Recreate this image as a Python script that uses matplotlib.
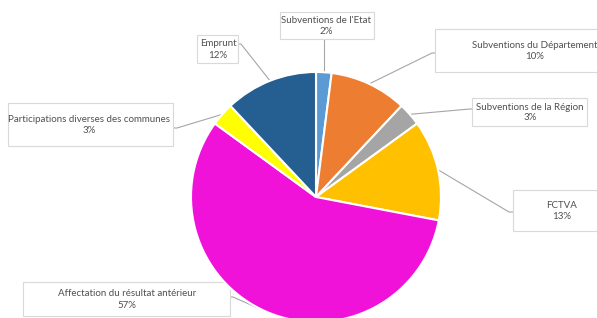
import numpy as np
import matplotlib
matplotlib.use('Agg')
import matplotlib.pyplot as plt
from matplotlib.patches import Rectangle

plt.rcParams['font.family'] = ['Lato', 'DejaVu Sans']

# Données
categories = ["Subventions de l'Etat", "Subventions du Département",
              "Subventions de la Région", "FCTVA",
              "Affectation du résultat antérieur",
              "Participations diverses des communes", "Emprunt"]
valeurs = [2, 10, 3, 13, 57, 3, 12]
couleurs = ['#5B9BD5', '#ED7D31', '#A5A5A5', '#FFC000',
            '#F012D9', '#FFFF00', '#255E91']

W, H = 597, 318
fig = plt.figure(figsize=(W / 100, H / 100), dpi=100)
ax = fig.add_axes([0, 0, 1, 1])
ax.set_xlim(0, W)
ax.set_ylim(H, 0)
ax.set_aspect('equal')
ax.axis('off')

# centre et rayon en pixels
cx, cy, r = 316, 197, 125

# le pie est dessiné dans un repère y vers le haut, sur un axe séparé
ax_pie = fig.add_axes([0, 0, 1, 1])
wedges, _ = ax_pie.pie(valeurs, colors=couleurs, startangle=90, counterclock=False,
                       center=(cx, H - cy), radius=r, frame=True,
                       wedgeprops=dict(edgecolor='white', linewidth=1.5))
ax_pie.set_xlim(0, W)
ax_pie.set_ylim(0, H)
ax_pie.set_aspect('equal')
ax_pie.axis('off')

# boîtes d'étiquettes: (x0, y0, x1, y1), centre du texte x, coude de la ligne
boites = [
    (280, 12, 374, 39, 326, None),
    (435, 29, 600, 72, 535, (432, 53)),
    (472, 98, 587, 126, 530, (470, 109)),
    (513, 190, 600, 231, 562, (509, 212)),
    (23, 282, 230, 316, 127, (233, 297)),
    (8, 103, 173, 146, 89, (177, 128)),
    (197, 35, 238, 63, 218, (241, 44)),
]

cum = np.cumsum([0] + valeurs)
for i, (cat, val) in enumerate(zip(categories, valeurs)):
    x0, y0, x1, y1, tx, coude = boites[i]
    ax.add_patch(Rectangle((x0, y0), x1 - x0, y1 - y0, facecolor='white',
                           edgecolor='#D9D9D9', linewidth=0.8, zorder=3))
    ym = (y0 + y1) / 2
    ax.text(tx, ym - 0.5, cat, ha='center', va='bottom', fontsize=7,
            color='#505050', zorder=4)
    ax.text(tx, ym + 1.5, f'{val}%', ha='center', va='top', fontsize=7,
            color='#505050', zorder=4)

    # ligne de rappel vers le milieu de l'arc
    a = np.deg2rad((cum[i] + val / 2) / 100 * 360)
    px, py = cx + r * np.sin(a), cy - r * np.cos(a)
    if coude is None:
        ax.plot([px, px], [py, y1], color='#A6A6A6', lw=0.8, zorder=2)
    else:
        bx = x0 if coude[0] < x0 else x1
        ax.plot([px, coude[0], bx], [py, coude[1], coude[1]],
                color='#A6A6A6', lw=0.8, zorder=2)

fig.savefig('out.png', dpi=100)
